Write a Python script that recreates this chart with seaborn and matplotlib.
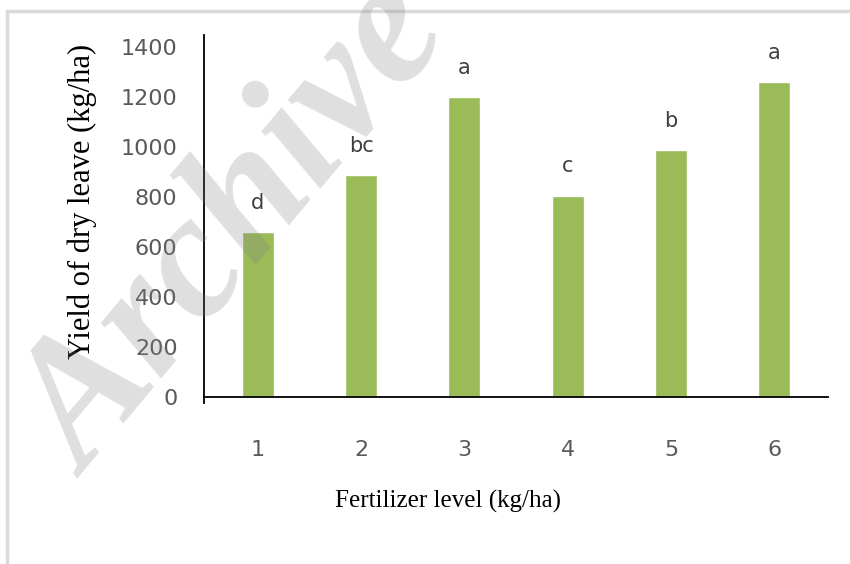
import matplotlib
matplotlib.use("Agg")
import matplotlib.pyplot as plt
from matplotlib.lines import Line2D
import seaborn as sns
import pandas as pd

# data
levels = ["1", "2", "3", "4", "5", "6"]
yield_dry = [662, 890, 1200, 807, 989, 1262]
letters = ["d", "bc", "a", "c", "b", "a"]

df = pd.DataFrame({"level": levels, "yield": yield_dry})

sns.set_style("white")
fig = plt.figure(figsize=(8.5, 5.64), dpi=100)
ax = fig.add_axes([204 / 850, 1 - 397 / 564, 624 / 850, 362 / 564])

sns.barplot(data=df, x="level", y="yield", color="#9BBB59", saturation=1,
            width=0.31, ax=ax, zorder=2)

ax.set_ylim(0, 1450)
ax.set_xlim(-0.52, 5.52)
ax.set_yticks(range(0, 1401, 200))

for i, (v, lab) in enumerate(zip(yield_dry, letters)):
    ax.annotate(lab, (i, v), xytext=(0, 21), textcoords="offset points",
                ha="center", va="center", fontsize=15, color="#404040")

for s in ["top", "right"]:
    ax.spines[s].set_visible(False)
ax.spines["left"].set_color("black")
ax.spines["bottom"].set_color("black")
ax.spines["left"].set_linewidth(1.3)
ax.spines["bottom"].set_linewidth(1.3)
ax.spines["left"].set_bounds(-25, 1450)

ax.tick_params(axis="y", length=0, pad=19, labelsize=16, labelcolor="#595959")
ax.tick_params(axis="x", length=0, pad=31, labelsize=16, labelcolor="#595959")

ax.set_xlabel("Fertilizer level (kg/ha)", family="Liberation Serif", fontsize=18, color="black")
ax.set_ylabel("Yield of dry leave (kg/ha)", family="Liberation Serif", fontsize=22, color="black")
ax.xaxis.set_label_coords(0.391, -0.258)
ax.yaxis.set_label_coords(-0.171, 0.539)

# light frame
fig.add_artist(Line2D([7 / 850, 7 / 850], [0, 1 - 11 / 564], transform=fig.transFigure,
                      color="#dadada", lw=2.5))
fig.add_artist(Line2D([7 / 850, 1], [1 - 11 / 564, 1 - 11 / 564], transform=fig.transFigure,
                      color="#dadada", lw=2.5))

# watermark
fig.text(238 / 850, 1 - 232 / 564, "Archive", family="Liberation Serif", style="italic",
         weight="bold", fontsize=128, color="#808080", alpha=0.25, rotation=50,
         ha="center", va="center", zorder=10)

fig.savefig("out.png", dpi=100)
